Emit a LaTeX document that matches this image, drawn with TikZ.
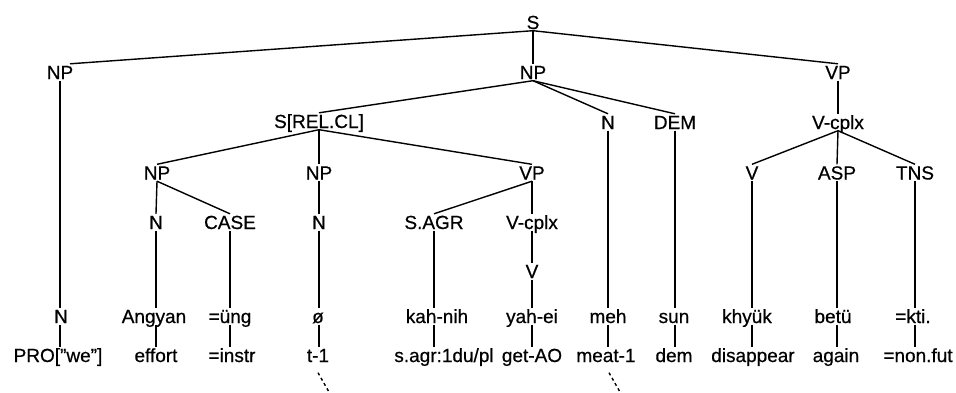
\documentclass[tikz,border=0pt]{standalone}
\usepackage{fontspec}
\setmainfont{Liberation Sans}[FakeBold=0.6]
\begin{document}
\begin{tikzpicture}[x=1pt,y=-1pt,
  lbl/.style={anchor=base,inner sep=1.5pt,text height=13.5pt,text depth=0pt,
    font=\fontsize{19}{19}\selectfont},
  edge/.style={line width=1.4pt},
  trace/.style={line width=1.4pt,dash pattern=on 3pt off 3pt}]
\useasboundingbox (0,0) rectangle (956,392);

% category labels
\node[lbl] (s)    at (533,29)   {S};
\node[lbl] (np1)  at (60,79)    {NP};
\node[lbl] (np2)  at (533,79)   {NP};
\node[lbl] (vp1)  at (838,79)   {VP};
\node[lbl] (rel)  at (319,128)  {S[REL.CL]};
\node[lbl] (n2)   at (608,129)  {N};
\node[lbl] (dem)  at (675,129)  {DEM};
\node[lbl] (vc1)  at (838,129)  {V-cplx};
\node[lbl] (np3)  at (157,179.5) {NP};
\node[lbl] (np4)  at (319,179.5) {NP};
\node[lbl] (vp2)  at (532,179.5) {VP};
\node[lbl] (v3)   at (752,179.5) {V};
\node[lbl] (asp)  at (837,179.5) {ASP};
\node[lbl] (tns)  at (915,179.5) {TNS};
\node[lbl] (n4a)  at (156,229)  {N};
\node[lbl] (case) at (230,229)  {CASE};
\node[lbl] (n4b)  at (319,229)  {N};
\node[lbl] (sagr) at (434,229)  {S.AGR};
\node[lbl] (vc2)  at (532,229)  {V-cplx};
\node[lbl] (v5)   at (532,278)  {V};

% object-language words
\node[lbl] (wn)     at (61,323)  {N};
\node[lbl] (angyan) at (154,323) {Angyan};
\node[lbl] (ung)    at (230,323) {=üng};
\node[lbl] (zero)   at (318,323) {ø};
\node[lbl] (kahnih) at (437,323) {kah-nih};
\node[lbl] (yahei)  at (532,323) {yah-ei};
\node[lbl] (meh)    at (608,323) {meh};
\node[lbl] (sun)    at (674,323) {sun};
\node[lbl] (khyuk)  at (747,323) {khyük};
\node[lbl] (betu)   at (833,323) {betü};
\node[lbl] (kti)    at (913,323) {=kti.};

% glosses
\node[lbl] (pro)    at (58,362)  {PRO["we"]};
\node[lbl] (effort) at (156,362) {effort};
\node[lbl] (instr)  at (232,362) {=instr};
\node[lbl] (t1)     at (318,362) {t-1};
\node[lbl] (sagrg)  at (444,362) {s.agr:1du/pl};
\node[lbl] (getao)  at (532,362) {get-AO};
\node[lbl] (meat)   at (606,362) {meat-1};
\node[lbl] (demg)   at (674,362) {dem};
\node[lbl] (disap)  at (753,362) {disappear};
\node[lbl] (again)  at (836,362) {again};
\node[lbl] (nonfut) at (918,362) {=non.fut};

% branches of the tree
\draw[edge] (s.south) -- ([xshift=10pt]np1.north);
\draw[edge] (s.south) -- (np2.north);
\draw[edge] (s.south) -- (vp1.north);
\draw[edge] (np2.south) -- (rel.north);
\draw[edge] (np2.south) -- (n2.north);
\draw[edge] (np2.south) -- (dem.north);
\draw[edge] (vp1.south) -- (vc1.north);
\draw[edge] (rel.south) -- (np3.north);
\draw[edge] (rel.south) -- (np4.north);
\draw[edge] (rel.south) -- (vp2.north);
\draw[edge] (vc1.south) -- (v3.north);
\draw[edge] (vc1.south) -- (asp.north);
\draw[edge] (vc1.south) -- (tns.north);
\draw[edge] (np3.south) -- (n4a.north);
\draw[edge] (np3.south) -- (case.north);
\draw[edge] (np4.south) -- (n4b.north);
\draw[edge] (vp2.south) -- (sagr.north);
\draw[edge] (vp2.south) -- (vc2.north);
\draw[edge] (vc2.south) -- (v5.north);

% stems down to the words
\draw[edge] (np1.south)  -- (np1.south  |- wn.north);
\draw[edge] (n4a.south)  -- (n4a.south  |- angyan.north);
\draw[edge] (case.south) -- (case.south |- ung.north);
\draw[edge] (n4b.south)  -- (n4b.south  |- zero.north);
\draw[edge] (sagr.south) -- (sagr.south |- kahnih.north);
\draw[edge] (v5.south)   -- (v5.south   |- yahei.north);
\draw[edge] (n2.south)   -- (n2.south   |- meh.north);
\draw[edge] (dem.south)  -- (dem.south  |- sun.north);
\draw[edge] (v3.south)   -- (v3.south   |- khyuk.north);
\draw[edge] (asp.south)  -- (asp.south  |- betu.north);
\draw[edge] (tns.south)  -- (tns.south  |- kti.north);

% stems from the words down to their glosses
\draw[edge] (np1.south  |- wn.south)     -- (np1.south  |- pro.north);
\draw[edge] (n4a.south  |- angyan.south) -- (n4a.south  |- effort.north);
\draw[edge] (case.south |- ung.south)    -- (case.south |- instr.north);
\draw[edge] (n4b.south  |- zero.south)   -- (n4b.south  |- t1.north);
\draw[edge] (sagr.south |- kahnih.south) -- (sagr.south |- sagrg.north);
\draw[edge] (v5.south   |- yahei.south)  -- (v5.south   |- getao.north);
\draw[edge] (n2.south   |- meh.south)    -- (n2.south   |- meat.north);
\draw[edge] (dem.south  |- sun.south)    -- (dem.south  |- demg.north);
\draw[edge] (v3.south   |- khyuk.south)  -- (v3.south   |- disap.north);
\draw[edge] (asp.south  |- betu.south)   -- (asp.south  |- again.north);
\draw[edge] (tns.south  |- kti.south)    -- (tns.south  |- nonfut.north);

% movement traces
\coordinate (tr1) at (329,392);
\coordinate (tr2) at (620,392);
\draw[trace] ([yshift=-9pt]t1.south) -- (tr1);
\draw[trace] ([yshift=-9pt,xshift=3pt]meat.south) -- (tr2);
\end{tikzpicture}
\end{document}
